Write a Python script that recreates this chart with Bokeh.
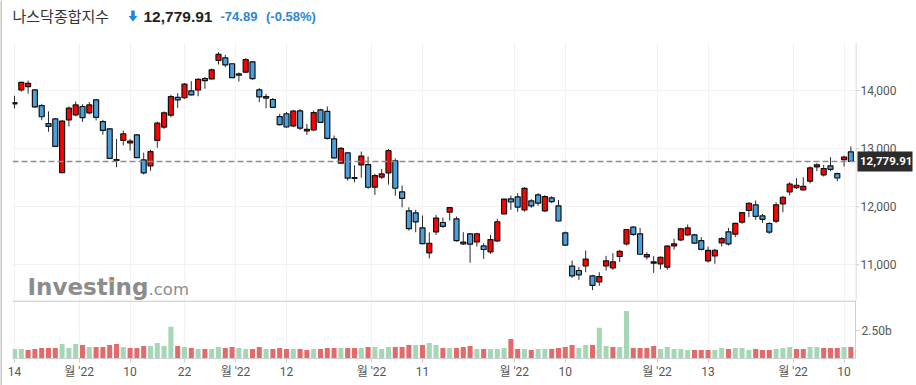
from bokeh.plotting import figure
from bokeh.models import Range1d, FixedTicker, PrintfTickFormatter, Span, Label, ColumnDataSource
from bokeh.layouts import column, row
from bokeh.embed import file_html
from bokeh.resources import INLINE
from bokeh.core.properties import value

# ---------------- data (NASDAQ Composite, daily, 2022-02-14 .. 2022-08-11) ----------------
opens = [13770, 14011, 14065, 14010, 13740, 13430, 13510, 12588, 13495, 13580,
         13725, 13615, 13840, 13465, 13340, 12812, 13140, 13098, 13237, 12806,
         12703, 13140, 13370, 13575, 13880, 13875, 13995, 14010, 14206, 14200,
         14516, 14562, 14460, 14285, 14315, 14493, 14012, 13870, 13845, 13552,
         13600, 13390, 13650, 13305, 13322, 13667, 13640, 13168, 12750, 12927,
         12502, 12720, 12726, 12336, 12510, 12583, 12790, 12256, 11929, 11894,
         11636, 11206, 11567, 11728, 11906, 11791, 11361, 11533, 11395, 11326,
         11223, 11412, 11877, 12135, 12170, 11946, 12101, 12204, 11929, 12153,
         12015, 11550, 10976, 10902, 10982, 10810, 10707, 10982, 10948, 11143,
         11361, 11648, 11533, 11137, 11051, 11017, 10959, 11326, 11430, 11516,
         11516, 11418, 11068, 11154, 11378, 11567, 11527, 11734, 11935, 12032,
         11843, 11711, 11751, 12049, 12256, 12330, 12290, 12439, 12686, 12548,
         12703, 12571, 12812, 12944]
highs = [13910, 14150, 14170, 14025, 13770, 13640, 13525, 13490, 13725, 13810,
         13760, 13800, 13852, 13495, 13350, 13165, 13310, 13168, 13248, 12930,
         12980, 13465, 13640, 13925, 13955, 14125, 14160, 14212, 14230, 14378,
         14660, 14613, 14470, 14310, 14556, 14505, 14040, 13942, 13873, 13598,
         13630, 13667, 13680, 13426, 13655, 13685, 13725, 13225, 13025, 12938,
         12710, 12950, 12865, 12566, 12650, 12995, 12830, 12365, 11990, 11946,
         11849, 11556, 11860, 11814, 11990, 11831, 11562, 11545, 11550, 11372,
         11516, 11791, 12135, 12193, 12233, 12336, 12130, 12233, 12198, 12181,
         12118, 11573, 11074, 10960, 11246, 10827, 10873, 11154, 11200, 11258,
         11615, 11665, 11636, 11217, 11149, 11143, 11338, 11447, 11636, 11694,
         11533, 11476, 11315, 11275, 11476, 11636, 11722, 11906, 12078, 12107,
         11877, 11734, 12078, 12187, 12422, 12491, 12508, 12692, 12749, 12720,
         12852, 12588, 12881, 13036]
lows = [13690, 13980, 13945, 13700, 13490, 13290, 13030, 12588, 13380, 13555,
        13460, 13590, 13485, 13240, 12828, 12680, 13055, 12967, 12838, 12555,
        12620, 13015, 13340, 13540, 13700, 13855, 13915, 13900, 14030, 14189,
        14447, 14400, 14215, 14155, 14304, 14183, 13800, 13696, 13700, 13397,
        13360, 13368, 13320, 13237, 13300, 13438, 13156, 12830, 12738, 12450,
        12420, 12500, 12310, 12202, 12478, 12380, 12190, 11990, 11590, 11560,
        11350, 11109, 11515, 11636, 11762, 11400, 11343, 11035, 11315, 11100,
        11189, 11390, 11866, 11946, 11912, 11917, 11980, 12015, 11912, 12061,
        11745, 11332, 10775, 10740, 10873, 10565, 10638, 10902, 10914, 11051,
        11332, 11499, 11170, 11091, 10862, 10925, 10914, 11263, 11407, 11499,
        11361, 11246, 11040, 11017, 11315, 11332, 11476, 11705, 11820, 11774,
        11722, 11533, 11717, 11906, 12193, 12307, 12279, 12400, 12612, 12520,
        12612, 12439, 12692, 12766]
closes = [13791, 14140, 14124, 13717, 13548, 13382, 13037, 13474, 13695, 13751,
          13532, 13752, 13538, 13313, 12831, 12796, 13256, 13130, 12844, 12581,
          12949, 13437, 13615, 13894, 13838, 14109, 13923, 14192, 14169, 14355,
          14620, 14442, 14221, 14262, 14533, 14204, 13889, 13897, 13711, 13412,
          13372, 13644, 13351, 13332, 13620, 13453, 13175, 12839, 13005, 12491,
          12489, 12872, 12335, 12536, 12564, 12965, 12318, 12145, 11623, 11738,
          11364, 11371, 11805, 11663, 11985, 11418, 11389, 11355, 11535, 11264,
          11435, 11741, 12131, 12081, 11994, 12317, 12013, 12061, 12175, 12086,
          11754, 11340, 10809, 10828, 11099, 10646, 10798, 11069, 11053, 11232,
          11608, 11525, 11182, 11178, 11029, 11128, 11322, 11362, 11621, 11635,
          11373, 11265, 11248, 11251, 11452, 11360, 11713, 11898, 12060, 11834,
          11783, 11563, 12032, 12163, 12391, 12369, 12349, 12668, 12721, 12658,
          12644, 12494, 12855, 12779.91]
volume_b = [0.85, 0.85, 0.76, 0.85, 0.94, 0.94, 0.94, 1.30, 0.94, 1.30,
            1.21, 1.03, 1.03, 1.03, 1.21, 1.30, 1.03, 0.94, 0.94, 1.12,
            1.12, 1.39, 1.12, 2.84, 1.12, 1.03, 0.94, 0.85, 0.85, 0.85,
            1.03, 0.94, 1.03, 0.94, 0.85, 0.85, 1.03, 0.85, 0.85, 0.94,
            0.85, 0.85, 0.85, 0.76, 0.85, 0.85, 0.94, 0.94, 0.94, 0.94,
            0.94, 0.94, 1.03, 1.03, 0.85, 1.03, 1.03, 1.03, 1.21, 1.21,
            1.21, 1.39, 1.21, 0.94, 0.94, 0.94, 1.03, 1.12, 0.85, 0.85,
            0.85, 0.85, 0.94, 1.75, 0.85, 0.85, 0.76, 0.85, 0.85, 0.85,
            0.94, 1.03, 1.21, 0.94, 1.21, 1.21, 2.74, 1.12, 1.03, 1.03,
            4.24, 0.94, 0.94, 0.94, 1.12, 0.85, 1.03, 0.85, 0.85, 0.76,
            0.76, 0.76, 0.76, 0.76, 0.94, 0.85, 0.94, 0.94, 0.76, 0.85,
            0.76, 0.76, 0.85, 0.94, 1.03, 0.85, 0.85, 1.03, 1.03, 0.94,
            0.94, 0.94, 1.03, 1.03]
tick_idx = [0, 9.5, 17, 25, 32.5, 40, 52.5, 60, 73.5, 81, 94.5, 102, 114.5, 122]
tick_labels = ["14", "월 '22", "10", "22", "월 '22", "12", "월 '22", "11",
               "월 '22", "10", "월 '22", "13", "월 '22", "10"]
price_ticks = [11000, 12000, 13000, 14000]
volume_ticks = [2.5]
title_name = "나스닥종합지수"
last_price_text = "12,779.91"
change_text = "-74.89"
change_pct_text = "(-0.58%)"

# ---------------- derived ----------------
n = len(closes)
xs = list(range(n))
UP_RED = "#ff0000"
DOWN_BLUE = "#4a9fdc"
body_top = [max(o, c) for o, c in zip(opens, closes)]
body_bot = [min(o, c) for o, c in zip(opens, closes)]
body_col = [UP_RED if c >= o else DOWN_BLUE for o, c in zip(opens, closes)]
vol_up = [True] + [closes[i] >= closes[i - 1] for i in range(1, n)]
vol_col = ["#a5d6b6" if u else "#e4696b" for u in vol_up]

src = ColumnDataSource(dict(x=xs, o=opens, h=highs, l=lows, c=closes,
                            top=body_top, bot=body_bot, col=body_col,
                            vol=volume_b, vcol=vol_col))

EDGE = 2            # grey page border on the left
FIG_W = 916 - EDGE
LEFT = 12 - EDGE
RIGHT = 61
FRAME_L, FRAME_R = 12, 916 - RIGHT
X0, X1 = -0.294, n - 1 + 0.68
PX_PER_IDX = (FRAME_R - FRAME_L) / (X1 - X0)
MAIN_TOP, MAIN_H = 42, 258
Y0, Y1 = 10386, 14826
TICK_FONT = "Roboto, Noto Sans CJK KR"
GRID = "#f2f2f2"
AXIS = "#cfcfcf"
LBL = "#555555"


def px_x(px):
    return X0 + (px - FRAME_L) / PX_PER_IDX


def px_y(py):
    return Y1 - (py - MAIN_TOP) * (Y1 - Y0) / MAIN_H


# ---------------- left page border ----------------
edge = figure(width=EDGE, height=385, output_backend="svg", toolbar_location=None,
              min_border=0, x_axis_location=None, y_axis_location=None)
edge.grid.visible = False
edge.outline_line_color = None
edge.background_fill_color = "#c6c6c6"
edge.border_fill_color = "#c6c6c6"

# ---------------- header (frame aligned with the chart frames: data x == page x) ----------------
hdr = figure(width=FIG_W, height=MAIN_TOP, x_range=Range1d(FRAME_L, FRAME_R), y_range=Range1d(MAIN_TOP, 0),
             output_backend="svg", toolbar_location=None,
             min_border_left=LEFT, min_border_right=RIGHT, min_border_top=0, min_border_bottom=0,
             x_axis_location=None, y_axis_location=None)
hdr.grid.visible = False
hdr.outline_line_color = None
hdr.text(x=[12], y=[15], text=[title_name], text_font=value("Noto Sans CJK KR"),
         text_font_size="15px", text_color="#333333", text_baseline="middle")
hdr.rect(x=[132.5], y=[13.0], width=3.6, height=6.2, fill_color="#1e88e5", line_color=None)
hdr.patch(x=[128.2, 136.8, 132.5], y=[15.6, 15.6, 21.3], fill_color="#1e88e5", line_color=None)
hdr.text(x=[143], y=[16], text=[last_price_text], text_font=value("Liberation Sans"),
         text_font_size="15.5px", text_font_style="bold", text_color="#222222",
         text_baseline="middle")
hdr.text(x=[220], y=[16], text=[change_text], text_font=value("Liberation Sans"),
         text_font_size="13px", text_font_style="bold", text_color="#2a86d8",
         text_baseline="middle")
hdr.text(x=[265.5], y=[16], text=[change_pct_text], text_font=value("Liberation Sans"),
         text_font_size="13px", text_font_style="bold", text_color="#2a86d8",
         text_baseline="middle")

# ---------------- main candles (frame only) ----------------
main = figure(width=FIG_W - RIGHT, height=MAIN_H, x_range=Range1d(X0, X1), y_range=Range1d(Y0, Y1),
              output_backend="svg", toolbar_location=None,
              min_border_left=LEFT, min_border_right=0, min_border_top=0, min_border_bottom=0,
              x_axis_location=None, y_axis_location=None)
main.outline_line_color = None
main.xgrid.ticker = FixedTicker(ticks=tick_idx)
main.xgrid.grid_line_color = GRID
main.ygrid.ticker = FixedTicker(ticks=price_ticks)
main.ygrid.grid_line_color = GRID

# watermark
main.add_layout(Label(x=px_x(27), y=px_y(286.5), text="Investing",
                      text_font="DejaVu Sans", text_font_size="23px",
                      text_font_style="bold", text_color="#8c8c8c",
                      text_baseline="middle", level="underlay"))
main.add_layout(Label(x=px_x(148), y=px_y(288.5), text=".com",
                      text_font="DejaVu Sans", text_font_size="16.5px",
                      text_color="#8c8c8c", text_baseline="middle", level="underlay"))
main.rect(x=[px_x(111)], y=[px_y(279.5)], width=5.5, height=5, width_units="screen",
          height_units="screen", fill_color="#f6b44a", line_color=None, level="underlay")

main.add_layout(Span(location=closes[-1], dimension="width", line_color="#8c8c8c",
                     line_width=1.5, line_dash="6 3"))

main.segment(x0="x", y0="h", x1="x", y1="l", source=src, line_color="#2a2a2a", line_width=1)
main.vbar(x="x", top="top", bottom="bot", width=0.74, source=src,
          fill_color="col", line_color="#111111", line_width=1.2)

# ---------------- price axis column (right of main) ----------------
side = figure(width=RIGHT, height=MAIN_H, x_range=Range1d(0, RIGHT), y_range=main.y_range,
              output_backend="svg", toolbar_location=None, min_border=0,
              x_axis_location=None, y_axis_location=None)
side.grid.visible = False
side.outline_line_color = None
side.add_layout(Span(location=0.5, dimension="height", line_color=AXIS, line_width=1))
side.segment(x0=[0] * len(price_ticks), x1=[4] * len(price_ticks), y0=price_ticks, y1=price_ticks,
             line_color=AXIS, line_width=1)
side.text(x=[5] * len(price_ticks), y=price_ticks, text=[f"{t:,}" for t in price_ticks],
          text_font=value("Roboto"), text_font_size="12px", text_color=LBL,
          text_baseline="middle", text_align="left")
side.rect(x=[29.5], y=[closes[-1]], width=55, height=20, width_units="data", height_units="screen",
          fill_color="#2b2b2b", line_color=None)
side.text(x=[4.5], y=[closes[-1]], text=[last_price_text], text_font=value("Roboto"),
          text_font_size="11.5px", text_font_style="bold", text_color="white",
          text_baseline="middle", text_align="left")

# ---------------- volume ----------------
V1 = 5.18
vol = figure(width=FIG_W, height=385 - MAIN_TOP - MAIN_H, x_range=main.x_range, y_range=Range1d(0, V1),
             output_backend="svg", toolbar_location=None,
             min_border_left=LEFT, min_border_right=RIGHT, min_border_top=0, min_border_bottom=27,
             y_axis_location="right")
vol.outline_line_color = None
vol.ygrid.visible = False
vol.xgrid.ticker = FixedTicker(ticks=tick_idx)
vol.xgrid.grid_line_color = GRID
vol.vbar(x="x", top="vol", bottom=0, width=0.74, source=src, fill_color="vcol", line_color=None)
vol.add_layout(Span(location=V1 * (1 - 0.6 / 58), dimension="width", line_color="#c8c8c8",
                    line_width=1.2))
xa = vol.xaxis[0]
xa.ticker = FixedTicker(ticks=tick_idx)
xa.major_label_overrides = {t: lab for t, lab in zip(tick_idx, tick_labels)}
xa.axis_line_color = AXIS
xa.major_tick_line_color = AXIS
xa.major_tick_out = 4
xa.major_tick_in = 0
xa.minor_tick_line_color = None
xa.major_label_standoff = 2
xa.major_label_text_font = TICK_FONT
xa.major_label_text_font_size = "12px"
xa.major_label_text_color = LBL
va = vol.yaxis[0]
va.ticker = FixedTicker(ticks=volume_ticks)
va.formatter = PrintfTickFormatter(format="%.2fb")
va.axis_line_color = AXIS
va.major_tick_line_color = AXIS
va.major_tick_out = 4
va.major_tick_in = 0
va.minor_tick_line_color = None
va.major_label_standoff = 2
va.major_label_text_font = TICK_FONT
va.major_label_text_font_size = "12px"
va.major_label_text_color = LBL

layout = row(edge, column(hdr, row(main, side), vol))
open("out.html", "w").write(file_html(layout, INLINE))
